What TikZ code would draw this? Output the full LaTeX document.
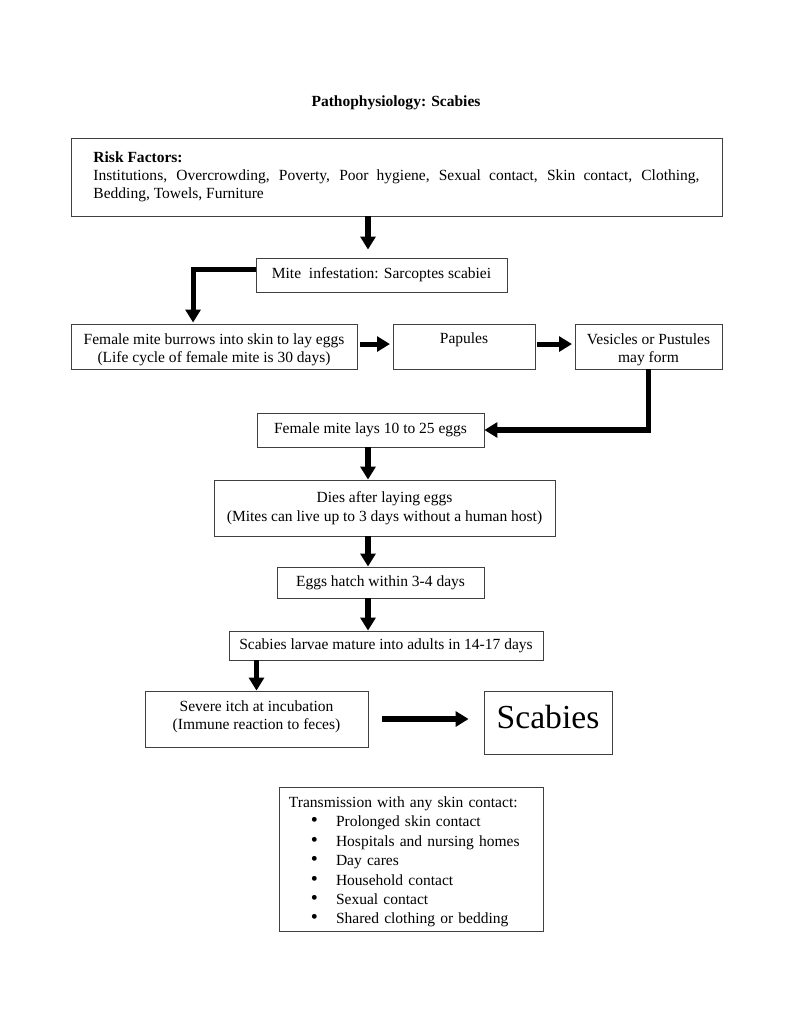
\documentclass[tikz,border=0pt]{standalone}
\usepackage{fontspec}
\setmainfont{Liberation Serif}
\usetikzlibrary{arrows.meta,calc}
\newcommand{\bul}{\makebox[36.4pt][l]{\hspace{17pt}\smash{\scalebox{1.3}{•}}}}
\begin{document}
\begin{tikzpicture}[x=0.7737pt,y=-0.7737pt,
  box/.style={draw=black!75, line width=0.7pt, inner sep=0pt, align=center,
    font=\fontsize{12}{14.6}\selectfont},
  txt/.style={inner sep=0pt, align=center, font=\fontsize{12}{14.2}\selectfont},
  arr/.style={line width=3.9pt, -{Triangle[length=10pt,width=11.5pt]}}]
\useasboundingbox[fill=white] (0,0) rectangle (791,1023);
\coordinate (col) at (368,0);
\node[font=\fontsize{12}{14.6}\selectfont\bfseries] (title) at (396,103) {Pathophysiology: Scabies};
\node[box, minimum width=503.7pt, minimum height=60.3pt, inner xsep=17pt, text width=468.9pt, align=justify,
  font=\fontsize{12}{14}\selectfont] (risk) at (396.5,177)
  {\textbf{Risk Factors:}\\ Institutions, Overcrowding, Poverty, Poor hygiene, Sexual contact, Skin contact, Clothing,\linebreak Bedding, Towels, Furniture};
\node[box, minimum width=194.2pt, minimum height=26.3pt] (mite) at (381.5,275) {Mite\ \ infestation: Sarcoptes scabiei};
\node[box, minimum width=221.3pt, minimum height=34.8pt] (burrow) at (214,346.5) {};
\node[txt] (burrowt) at (214,350) {Female mite burrows into skin to lay eggs\\(Life cycle of female mite is 30 days)};
\node[box, minimum width=109.9pt, minimum height=34.8pt] (papules) at (464,346.5) {};
\node[txt] (papulest) at (464,340) {Papules};
\node[box, minimum width=113.7pt, minimum height=34.8pt] (vesic) at (648.5,346.5) {};
\node[txt] (vesict) at (648.5,350) {Vesicles or Pustules\\may form};
\node[box, minimum width=175.6pt, minimum height=26.3pt] (lays) at (370.5,430) {Female mite lays 10 to 25 eggs};
\node[box, minimum width=263.8pt, minimum height=43.3pt] (dies) at (384.5,508) {Dies after laying eggs\\(Mites can live up to 3 days without a human host)};
\node[box, minimum width=160.2pt, minimum height=24pt] (eggs) at (380.5,582.5) {Eggs hatch within 3-4 days};
\node[box, minimum width=242.9pt, minimum height=22.4pt] (larvae) at (386,645.5) {Scabies larvae mature into adults in 14-17 days};
\node[box, minimum width=172.5pt, minimum height=43.3pt] (itch) at (256.5,719) {};
\node[txt] (itcht) at (256.5,717) {Severe itch at incubation\\(Immune reaction to feces)};
\node[box, minimum width=99pt, minimum height=48.7pt, font=\fontsize{26}{30}\selectfont, text depth=8.5pt] (scab) at (548,722.5) {Scabies};
\node[box, minimum width=204.3pt, minimum height=111.4pt] (trans) at (411,859) {};
\node[txt, text width=188.8pt, align=left, font=\fontsize{12}{15}\selectfont] (transt) at (411,862)
  {Transmission with any skin contact:\\
   \bul Prolonged skin contact\\
   \bul Hospitals and nursing homes\\
   \bul Day cares\\
   \bul Household contact\\
   \bul Sexual contact\\
   \bul Shared clothing or bedding};
% connectors
\draw[arr, shorten >=6.2pt] (risk.south -| col) -- (mite.north -| col);
\draw[arr, shorten >=0.8pt] ([yshift=4.6pt]mite.west) -| ([xshift=-16.2pt]burrow.north);
\draw[arr, shorten <=2pt, shorten >=2pt] ([yshift=1.9pt]burrow.east) -- ([yshift=1.9pt]burrow.east -| papules.west);
\draw[arr, shorten <=1.5pt, shorten >=2pt] ([yshift=1.9pt]papules.east) -- ([yshift=1.9pt]papules.east -| vesic.west);
\draw[arr] (vesic.south) |- (lays.east);
\draw[arr] (lays.south -| col) -- (dies.north -| col);
\draw[arr] (dies.south -| col) -- (eggs.north -| col);
\draw[arr] (eggs.south -| col) -- (larvae.north -| col);
\draw[arr] (larvae.south -| itch.north) -- (itch.north);
\draw[arr, shorten <=10.8pt, shorten >=11.6pt] (itch.east) -- (itch.east -| scab.west);
\end{tikzpicture}
\end{document}
